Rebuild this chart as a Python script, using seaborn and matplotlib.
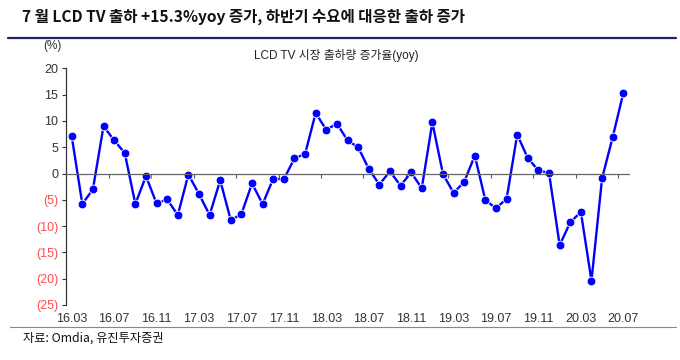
import numpy as np
import pandas as pd
import matplotlib.pyplot as plt
import seaborn as sns

# LCD TV shipment growth, yoy (%), monthly 16.03 ~ 20.07
yoy = [7.1, -5.8, -3.0, 9.0, 6.3, 3.9, -5.8, -0.5, -5.7, -4.9,
       -7.9, -0.2, -3.9, -7.9, -1.3, -8.9, -7.7, -1.9, -5.8, -1.0,
       -1.1, 2.9, 3.7, 11.5, 8.3, 9.5, 6.3, 5.0, 0.9, -2.1,
       0.4, -2.3, 0.2, -2.8, 9.7, -0.1, -3.7, -1.6, 3.4, -5.1,
       -6.6, -4.8, 7.4, 2.9, 0.6, 0.1, -13.6, -9.3, -7.3, -20.4,
       -0.9, 6.9, 15.3]
tick_labels = ['16.03', '16.07', '16.11', '17.03', '17.07', '17.11', '18.03',
               '18.07', '18.11', '19.03', '19.07', '19.11', '20.03', '20.07']
y_ticks = [20, 15, 10, 5, 0, -5, -10, -15, -20, -25]

title = '7 월 LCD TV 출하 +15.3%yoy 증가, 하반기 수요에 대응한 출하 증가'
subtitle = 'LCD TV 시장 출하량 증가율(yoy)'
source = '자료: Omdia, 유진투자증권'

df = pd.DataFrame({'idx': np.arange(len(yoy)), 'yoy': yoy})

sns.set_style('white')
plt.rcParams['font.family'] = ['Liberation Sans', 'Noto Sans CJK KR', 'DejaVu Sans']

fig = plt.figure(figsize=(6.8, 3.6), dpi=100)
ax = fig.add_axes([66.4 / 680, 1 - 305 / 360, (628.6 - 66.4) / 680, (305 - 68.3) / 360])

sns.lineplot(data=df, x='idx', y='yoy', ax=ax, color='#0000ff', lw=1.7,
             marker='o', markersize=6.3, markeredgecolor='white', markeredgewidth=0.6)

ax.set_xlim(-0.5, len(yoy) - 0.5)
ax.set_ylim(-25, 20)
ax.set_xlabel('')
ax.set_ylabel('')

# y axis with bracketed negatives in red
ax.set_yticks(y_ticks)
ax.set_yticklabels([str(v) if v >= 0 else f'({-v})' for v in y_ticks])
for lab, v in zip(ax.get_yticklabels(), y_ticks):
    lab.set_color('#333333' if v >= 0 else '#ff4d4d')
ax.tick_params(axis='y', direction='out', length=3, width=0.8, color='#333333',
               labelsize=9, pad=3, left=True)

# zero line with small ticks between categories
for s in ['top', 'right']:
    ax.spines[s].set_visible(False)
ax.spines['left'].set_color('#333333')
ax.spines['left'].set_linewidth(0.9)
ax.spines['bottom'].set_position(('data', 0))
ax.spines['bottom'].set_color('#666666')
ax.spines['bottom'].set_linewidth(0.9)
ax.set_xticks(np.arange(3.5, len(yoy) - 1, 4))
ax.set_xticklabels([])
ax.tick_params(axis='x', direction='out', length=3, width=0.8, color='#555555', bottom=True)

# month labels along the bottom
sec = ax.secondary_xaxis(0)
sec.set_xticks(np.arange(0, len(yoy), 4), tick_labels)
sec.tick_params(length=0, pad=6, labelsize=9, labelcolor='#333333')
sec.spines['bottom'].set_visible(False)

# header, frame lines and notes
fig.text(22 / 680, 1 - 17 / 360, title, fontsize=11.2, fontweight='bold',
         family=['Noto Sans CJK KR'], color='#111111', va='center', ha='left')
fig.add_artist(plt.Line2D([8 / 680, 676 / 680], [1 - 38 / 360] * 2, color='#1b2266', lw=1.6))
fig.text(52 / 680, 1 - 46 / 360, '(%)', fontsize=8.5, color='#333333', ha='center', va='center')
fig.text(336 / 680, 1 - 56 / 360, subtitle, fontsize=8.5, color='#222222', ha='center', va='center',
         family=['Liberation Sans', 'Noto Sans CJK KR'])
fig.add_artist(plt.Line2D([10 / 680, 676 / 680], [1 - 327 / 360] * 2, color='#888888', lw=0.8))
fig.text(23 / 680, 1 - 338 / 360, source, fontsize=8.8, color='#111111', ha='left', va='center',
         family=['Noto Sans CJK KR'])

fig.savefig('out.png', dpi=100)
